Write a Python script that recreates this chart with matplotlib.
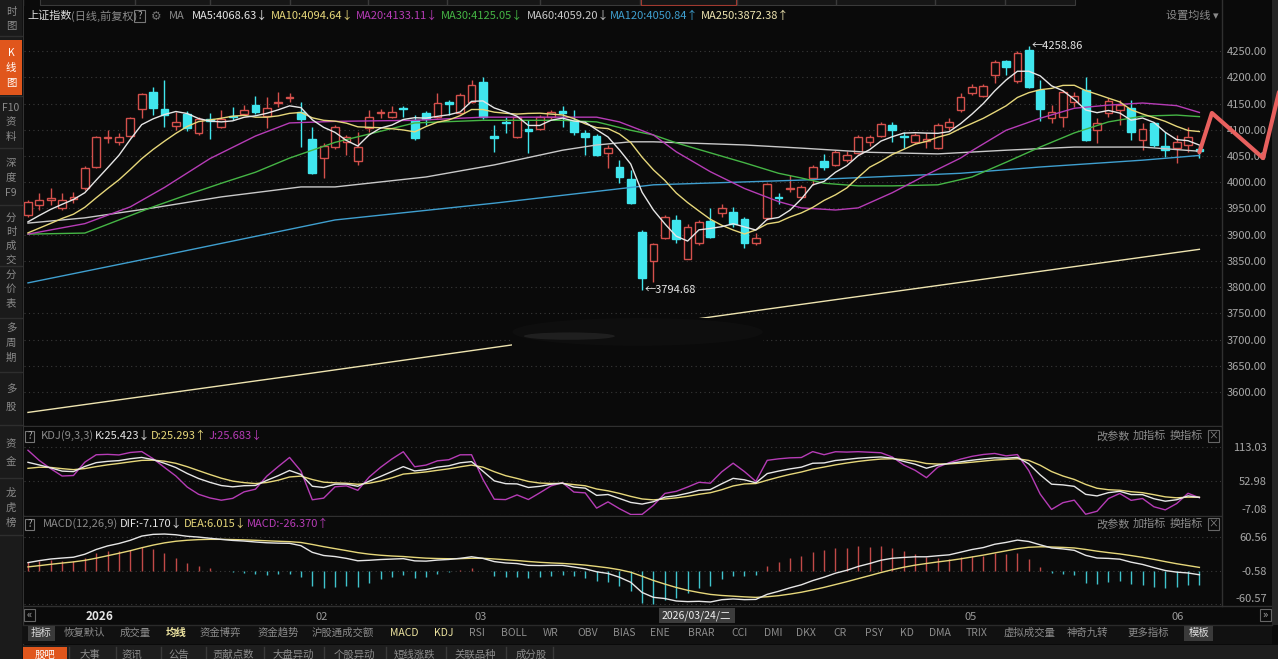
import numpy as np
import pandas as pd
import matplotlib
matplotlib.use('Agg')
import matplotlib.pyplot as plt
from matplotlib.patches import Rectangle, Ellipse
from matplotlib.lines import Line2D

plt.rcParams['font.family'] = ['Noto Sans CJK SC', 'DejaVu Sans']

W, H = 1278, 659

# daily candles, oldest first (late Dec 2025 .. early Jun 2026)
opens = [3937, 3956, 3966, 3951, 3968, 3989, 4029, 4085, 4077, 4088,
         4139, 4172, 4139, 4107, 4130, 4094, 4120, 4105, 4127, 4130,
         4147, 4126, 4151, 4160, 4134, 4082, 4046, 4067, 4077, 4040,
         4103, 4132, 4124, 4141, 4118, 4132, 4124, 4153, 4132, 4153,
         4191, 4088, 4115, 4086, 4101, 4101, 4124, 4136, 4118, 4094,
         4088, 4056, 4029, 4006, 3905, 3850, 3894, 3928, 3853, 3884,
         3926, 3941, 3943, 3930, 3884, 3932, 3971, 3987, 3972, 4008,
         4040, 4033, 4042, 4056, 4077, 4088, 4109, 4088, 4077, 4079,
         4065, 4105, 4137, 4170, 4164, 4204, 4231, 4193, 4252, 4176,
         4122, 4124, 4153, 4176, 4099, 4132, 4137, 4141, 4080, 4113,
         4069, 4065, 4071, 4063]
highs = [3966, 3979, 3989, 3979, 3981, 4030, 4088, 4100, 4094, 4124,
         4170, 4181, 4195, 4134, 4135, 4124, 4132, 4137, 4143, 4147,
         4164, 4162, 4172, 4170, 4153, 4105, 4075, 4109, 4090, 4096,
         4137, 4140, 4145, 4145, 4128, 4136, 4170, 4157, 4170, 4195,
         4200, 4109, 4124, 4126, 4118, 4128, 4137, 4145, 4137, 4099,
         4092, 4071, 4042, 4023, 3908, 3885, 3937, 3937, 3920, 3927,
         3951, 3958, 3952, 3933, 3903, 3999, 3979, 4014, 3995, 4032,
         4054, 4061, 4059, 4090, 4090, 4115, 4115, 4096, 4094, 4094,
         4113, 4122, 4170, 4187, 4187, 4233, 4233, 4250, 4258.86, 4195,
         4147, 4176, 4172, 4200, 4122, 4160, 4157, 4157, 4113, 4115,
         4096, 4090, 4105, 4071]
lows = [3933, 3947, 3956, 3947, 3960, 3986, 4027, 4075, 4071, 4086,
        4122, 4128, 4105, 4099, 4098, 4090, 4082, 4103, 4118, 4130,
        4130, 4103, 4143, 4153, 4067, 4015, 4008, 4063, 4052, 4033,
        4096, 4122, 4122, 4124, 4080, 4109, 4122, 4128, 4130, 4151,
        4120, 4057, 4093, 4084, 4055, 4099, 4120, 4105, 4090, 4052,
        4050, 4027, 3998, 3958, 3794.68, 3810, 3891, 3884, 3853, 3880,
        3893, 3934, 3914, 3875, 3880, 3928, 3958, 3981, 3970, 3994,
        4023, 4030, 4038, 4054, 4069, 4086, 4076, 4065, 4072, 4065,
        4063, 4099, 4134, 4166, 4162, 4189, 4204, 4189, 4179, 4117,
        4113, 4105, 4143, 4078, 4074, 4124, 4109, 4080, 4061, 4067,
        4048, 4036, 4057, 4046]
closes = [3962, 3966, 3970, 3966, 3971, 4027, 4086, 4087, 4086, 4122,
          4168, 4141, 4128, 4115, 4103, 4120, 4117, 4120, 4125, 4137,
          4134, 4141, 4153, 4163, 4120, 4018, 4069, 4105, 4086, 4067,
          4124, 4134, 4134, 4139, 4084, 4120, 4151, 4149, 4166, 4185,
          4124, 4084, 4112, 4124, 4097, 4124, 4134, 4132, 4096, 4086,
          4052, 4065, 4010, 3960, 3817, 3882, 3934, 3892, 3914, 3924,
          3895, 3951, 3920, 3884, 3894, 3997, 3969, 3989, 3991, 4029,
          4029, 4057, 4052, 4086, 4086, 4111, 4099, 4086, 4090, 4082,
          4109, 4115, 4162, 4181, 4183, 4229, 4219, 4246, 4181, 4139,
          4134, 4172, 4164, 4080, 4113, 4155, 4147, 4096, 4101, 4071,
          4061, 4077, 4086, 4059]
# 9 sessions before the window (only to start MA5/MA10/MACD)
prev_close = [3875, 3880, 3872, 3890, 3895, 3905, 3912, 3918, 3925]

# slow moving averages: session index -> value
ma20_i = [0, 5, 9, 12, 16, 20, 23, 27, 34, 40, 50, 52, 55, 57, 60, 63, 66,
          68, 71, 73, 76, 79, 82, 83, 86, 89, 92, 95, 98, 101, 103]
ma20_v = [3901, 3921, 3953, 3990, 4045, 4088, 4113, 4116, 4118, 4124, 4124,
          4115, 4090, 4058, 4020, 3988, 3963, 3951, 3947, 3951, 3980, 4014,
          4046, 4060, 4099, 4122, 4141, 4147, 4151, 4146, 4133]
ma30_i = [0, 5, 8, 11, 14, 17, 20, 23, 25, 27, 34, 40, 47, 50, 53, 55, 57,
          60, 63, 66, 68, 70, 73, 76, 80, 83, 86, 89, 92, 95, 98, 101, 103]
ma30_v = [3901, 3903, 3928, 3953, 3976, 3998, 4019, 4046, 4061, 4076, 4113,
          4118, 4118, 4115, 4099, 4090, 4075, 4056, 4037, 4017, 4008, 3998,
          3993, 3993, 3995, 4010, 4038, 4067, 4094, 4115, 4126, 4128, 4125]
ma60_i = [0, 5, 11, 17, 24, 27, 35, 41, 47, 50, 53, 55, 63, 68, 74, 80, 86,
          92, 98, 103]
ma60_v = [3922, 3932, 3951, 3972, 3991, 3991, 4010, 4033, 4061, 4071, 4077,
          4077, 4071, 4065, 4057, 4054, 4061, 4067, 4067, 4059]
ma120_i = [0, 10, 27, 41, 55, 68, 82, 89, 98, 103]
ma120_v = [3808, 3852, 3928, 3960, 3995, 4004, 4017, 4029, 4042, 4051]
ma250_i = [0, 25, 42, 64, 85, 103]
ma250_v = [3561, 3636, 3688, 3755, 3818, 3872]
kd_start = (85, 70)

# pen stroke drawn over the right edge of the chart
sketch_i = [103, 104.1, 108.6, 110]
sketch_v = [4057, 4132, 4046, 4172]
# blurred-out watermark over the MA250 line (index range, price range)
smear_i = (42.6, 64.6)
smear_v = (3688, 3741)

price_ticks = [4250, 4200, 4150, 4100, 4050, 4000, 3950, 3900, 3850, 3800,
               3750, 3700, 3650, 3600]
kdj_ticks = [113.03, 52.98, -7.08]
macd_ticks = [60.56, -0.58, -60.57]
date_pos = [6.3, 25.8, 39.8, 82.9, 101.1]
date_txt = ['2026', '02', '03', '05', '06']

BG = '#0a0a0a'
UP = '#d4504c'
DN = '#40e6ee'
C5, C10, C20, C30 = '#e6e6e6', '#e6d77a', '#b63cb6', '#45b545'
C60, C120, C250 = '#c9c9c9', '#3f9fcf', '#eee4b0'
GRID = '#3a3a3a'

fig = plt.figure(figsize=(W / 100, H / 100), dpi=100, facecolor=BG)


def rect_px(x0, y0, x1, y1):
    return [x0 / W, 1 - y1 / H, (x1 - x0) / W, (y1 - y0) / H]


def ptext(x, y, s, color='#9a9a9a', size=8, **kw):
    fig.text(x / W, 1 - y / H, s, color=color, fontsize=size, va='center', **kw)


def pbox(x0, y0, x1, y1, fc='none', ec='#555555', lw=0.8, z=-1):
    fig.add_artist(Rectangle((x0 / W, 1 - y1 / H), (x1 - x0) / W, (y1 - y0) / H,
                             transform=fig.transFigure, facecolor=fc, edgecolor=ec,
                             lw=lw, zorder=z))


def pline(x0, y0, x1, y1, color='#2a2a2a', lw=1):
    fig.add_artist(Line2D([x0 / W, x1 / W], [1 - y0 / H, 1 - y1 / H],
                          transform=fig.transFigure, color=color, lw=lw, zorder=-1))


ax = fig.add_axes(rect_px(24, 6, 1221, 425))
axk = fig.add_axes(rect_px(24, 427, 1221, 515))
axm = fig.add_axes(rect_px(24, 517, 1221, 605))
for a in (ax, axk, axm):
    a.set_facecolor(BG)
    for s in a.spines.values():
        s.set_visible(False)
    a.set_xlim(-0.35, 104.9)
    a.set_xticks([])
    a.yaxis.tick_right()
    a.tick_params(axis='y', length=0, pad=33, labelsize=8, labelcolor='#a8a8a8')
    a.grid(axis='y', color=GRID, ls=(0, (1, 3)), lw=0.8)
    a.set_axisbelow(True)

# ---- price panel
o, h, l, c = (np.array(v, dtype=float) for v in (opens, highs, lows, closes))
idx = np.arange(len(c))
up = c >= o
ax.vlines(idx, l, h, colors=np.where(up, UP, DN), lw=1, zorder=2)
bot = np.minimum(o, c)
hgt = np.maximum(np.abs(c - o), 0.8)
ax.bar(idx[up], hgt[up], bottom=bot[up], width=0.68, facecolor=BG,
       edgecolor=UP, lw=1, zorder=3)
ax.bar(idx[~up], hgt[~up], bottom=bot[~up], width=0.68, facecolor=DN,
       edgecolor=DN, lw=1, zorder=3)

allc = pd.Series(prev_close + closes, dtype=float)
n0 = len(prev_close)
ma5 = allc.rolling(5).mean().to_numpy()[n0:]
ma10 = allc.rolling(10).mean().to_numpy()[n0:]
ax.plot(ma250_i, ma250_v, color=C250, lw=1, zorder=4)
ax.plot(ma120_i, ma120_v, color=C120, lw=1, zorder=4)
ax.plot(ma60_i, ma60_v, color=C60, lw=1, zorder=4)
ax.plot(ma30_i, ma30_v, color=C30, lw=1, zorder=4)
ax.plot(ma20_i, ma20_v, color=C20, lw=1, zorder=4)
ax.plot(idx, ma10, color=C10, lw=1, zorder=4)
ax.plot(idx, ma5, color=C5, lw=1, zorder=4)

# the screenshot has a blurred patch here that hides part of MA250
ax.add_patch(Rectangle((smear_i[0], smear_v[0]), smear_i[1] - smear_i[0],
                       smear_v[1] - smear_v[0], facecolor=BG, edgecolor='none',
                       zorder=4.5))
cx = (smear_i[0] + smear_i[1]) / 2
cy = (smear_v[0] + smear_v[1]) / 2
ax.add_patch(Ellipse((cx, cy), smear_i[1] - smear_i[0], smear_v[1] - smear_v[0],
                     facecolor='#5a5a5a', edgecolor='none', alpha=0.05, zorder=4.6))
ax.add_patch(Ellipse((smear_i[0] + 5, cy - 8), 8, 14, facecolor='#bdbdbd',
                     edgecolor='none', alpha=0.10, zorder=4.6))

hi = int(np.argmax(h))
lo = int(np.argmin(l))
ax.text(hi + 0.25, h[hi], '←%.2f' % h[hi], color='#e6e6e6', fontsize=8,
        va='center', ha='left', zorder=5)
ax.text(lo + 0.25, l[lo], '←%.2f' % l[lo], color='#e6e6e6', fontsize=8,
        va='center', ha='left', zorder=5)

ax.plot(sketch_i, sketch_v, color='#e8605e', lw=3, solid_capstyle='round',
        solid_joinstyle='round', clip_on=False, zorder=10)

ax.set_ylim(3537, 4336)
ax.set_yticks(price_ticks)
ax.set_yticklabels(['%.2f' % v for v in price_ticks])

# ---- KDJ(9,3,3)
hh = pd.Series(h).rolling(9, min_periods=1).max()
ll = pd.Series(l).rolling(9, min_periods=1).min()
rsv = ((pd.Series(c) - ll) / (hh - ll) * 100).to_numpy()
K, D = [], []
k, d = kd_start
for r in rsv:
    k = (2 * k + r) / 3
    d = (2 * d + k) / 3
    K.append(k)
    D.append(d)
K, D = np.array(K), np.array(D)
J = 3 * K - 2 * D
axk.plot(idx, J, color=C20, lw=1)
axk.plot(idx, D, color=C10, lw=1)
axk.plot(idx, K, color=C5, lw=1)
axk.set_ylim(-7.08, 148.3)
axk.set_yticks(kdj_ticks)
axk.set_yticklabels(['%.2f' % v for v in kdj_ticks])

# ---- MACD(12,26,9)
dif = allc.ewm(span=12, adjust=False).mean() - allc.ewm(span=26, adjust=False).mean()
dea = dif.ewm(span=9, adjust=False).mean()
dif = dif.to_numpy()[n0:]
dea = dea.to_numpy()[n0:]
hist = 2 * (dif - dea)
axm.vlines(idx, 0, hist, colors=np.where(hist >= 0, '#c24a48', '#3fc3cc'), lw=1)
axm.plot(idx, dea, color=C10, lw=1)
axm.plot(idx, dif, color=C5, lw=1)
axm.set_ylim(-61.7, 96.5)
axm.set_yticks(macd_ticks)
axm.set_yticklabels(['%.2f' % v for v in macd_ticks])

for a in (ax, axk, axm):
    for lbl in a.get_yticklabels():
        lbl.set_horizontalalignment('right')
axk.get_yticklabels()[-1].set_verticalalignment('bottom')
axm.get_yticklabels()[-1].set_verticalalignment('bottom')

# ---- frame, dividers, sidebar
pline(23, 426, 1221, 426, '#303030')
pline(23, 516, 1221, 516, '#303030')
pline(23, 606, 1278, 606, '#303030')
pline(1222, 0, 1222, 606, '#303030')
pbox(1272, 0, 1278, 625, fc='#262626', ec='none')
pbox(0, 0, 22, 659, fc='#1b1b1b', ec='none')
pline(22.5, 0, 22.5, 659, '#333333')
pbox(40, -4, 1075, 5, fc='#161616', ec='#3a3a3a')
for x in [135, 210, 290, 368, 447, 540, 640, 737, 836, 935, 1005]:
    pline(x, 0, x, 5, '#3a3a3a')
pbox(641, -4, 736, 5, fc='none', ec='#a03a30')

pbox(0, 40, 22, 95, fc='#e0561c', ec='none')
side = [(['时', '图'], [12, 26]),
        (['K', '线', '图'], [53, 68, 83]),
        (['F10', '资', '料'], [108, 122, 137]),
        (['深', '度', 'F9'], [163, 178, 193]),
        (['分', '时', '成', '交'], [218, 232, 246, 260]),
        (['分', '价', '表'], [275, 289, 303]),
        (['多', '周', '期'], [328, 343, 358]),
        (['多', '股'], [389, 407]),
        (['资', '金'], [444, 462]),
        (['龙', '虎', '榜'], [493, 508, 523])]
for n, (chars, ys) in enumerate(side):
    col = '#ffffff' if n == 1 else '#8c8c8c'
    for ch, y in zip(chars, ys):
        ptext(11, y, ch, color=col, size=7.5, ha='center')
for y in [36, 96, 148, 205, 266, 318, 372, 425, 478, 535]:
    pline(0, y, 22, y, '#2e2e2e')

# ---- headers
ptext(27, 16, '上证指数', color='#dcdcdc')
ptext(71, 16, '(日线,前复权)', color='#8a8a8a')
pbox(134, 10, 145, 22, ec='#777777', z=2)
ptext(139.5, 16, '?', color='#aaaaaa', size=7, ha='center')
ptext(151, 16, '⚙', color='#777777', size=8.5)
ptext(169, 16, 'MA', color='#8a8a8a')
ma_txt = ['MA5:4068.63↓', 'MA10:4094.64↓', 'MA20:4133.11↓', 'MA30:4125.05↓',
          'MA60:4059.20↓', 'MA120:4050.84↑', 'MA250:3872.38↑']
ma_x = [192, 271, 356, 441, 527, 610, 701]
for s, x, col in zip(ma_txt, ma_x, [C5, C10, C20, C30, C60, C120, C250]):
    ptext(x, 16, s, color=col)
ptext(1166, 16, '设置均线 ▾', color='#8a8a8a')

for y0 in (436, 524):
    pbox(25, y0 - 5.5, 34, y0 + 5.5, ec='#777777', z=2)
    ptext(29.5, y0, '?', color='#aaaaaa', size=7, ha='center')
    ptext(1096, y0, '改参数', color='#8a8a8a')
    ptext(1133, y0, '加指标', color='#8a8a8a')
    ptext(1170, y0, '换指标', color='#8a8a8a')
    pbox(1208, y0 - 6, 1219, y0 + 6, ec='#666666', z=2)
    ptext(1213.5, y0, '×', color='#888888', size=7, ha='center')

ptext(41, 436, 'KDJ(9,3,3)', color='#8a8a8a')
ptext(95, 436, 'K:25.423↓', color=C5)
ptext(151, 436, 'D:25.293↑', color=C10)
ptext(209, 436, 'J:25.683↓', color=C20)
ptext(43, 524, 'MACD(12,26,9)', color='#8a8a8a')
ptext(120, 524, 'DIF:-7.170↓', color=C5)
ptext(184, 524, 'DEA:6.015↓', color=C10)
ptext(247, 524, 'MACD:-26.370↑', color=C20)

# ---- date row
for p, s in zip(date_pos, date_txt):
    ax.text(p, -0.458, s, transform=ax.get_xaxis_transform(), ha='center',
            va='center', fontsize=8.5 if s == '2026' else 8,
            color='#e6e6e6' if s == '2026' else '#9a9a9a',
            fontweight='bold' if s == '2026' else 'normal', clip_on=False)
pbox(24, 609, 35, 621, ec='#666666', z=2)
ptext(29.5, 614.5, '«', color='#aaaaaa', size=8, ha='center')
pbox(1260, 609, 1271, 621, ec='#666666', z=2)
ptext(1265.5, 614.5, '»', color='#aaaaaa', size=8, ha='center')
pbox(659, 608, 735, 623, fc='#3c3c3c', ec='none', z=2)
ptext(662, 615.5, '2026/03/24/二', color='#f0f0f0', size=7.5)

# ---- indicator tabs
pbox(23, 625, 1272, 644, fc='#111111', ec='none')
pline(23, 625, 1272, 625, '#2a2a2a')
tabs = ['指标', '恢复默认', '成交量', '均线', '资金博弈', '资金趋势', '沪股通成交额',
        'MACD', 'KDJ', 'RSI', 'BOLL', 'WR', 'OBV', 'BIAS', 'ENE', 'BRAR', 'CCI',
        'DMI', 'DKX', 'CR', 'PSY', 'KD', 'DMA', 'TRIX', '虚拟成交量', '神奇九转',
        '更多指标', '模板']
tab_x = [41, 84, 135, 176, 220, 278, 343, 404, 444, 477, 514, 551, 588, 624,
         660, 701, 740, 773, 806, 840, 874, 907, 940, 977, 1030, 1087, 1148, 1199]
pbox(28, 626, 55, 641, fc='#3a3a3a', ec='none', z=0)
pbox(1184, 626, 1213, 641, fc='#3a3a3a', ec='none', z=0)
for s, x in zip(tabs, tab_x):
    col = '#8c8c8c'
    if s in ('均线', 'MACD', 'KDJ'):
        col = '#ece3a0'
    if s in ('指标', '模板'):
        col = '#dddddd'
    ptext(x, 633, s, color=col, size=7.5, ha='center',
          fontweight='bold' if s == '均线' else 'normal')

# ---- bottom tabs (cut off by the screenshot)
pbox(23, 645, 1278, 662, fc='#1e1e1e', ec='none')
pbox(23, 647, 67, 662, fc='#e0561c', ec='none', z=0)
bottom = ['股吧', '大事', '资讯', '公告', '贡献点数', '大盘异动', '个股异动', '短线涨跌',
          '关联品种', '成分股']
bottom_x = [45, 90, 132, 179, 233, 293, 354, 414, 475, 531]
for s, x in zip(bottom, bottom_x):
    ptext(x, 655, s, color='#ffffff' if s == '股吧' else '#8c8c8c', size=7.5,
          ha='center')
for x in [69, 116, 161, 206, 264, 324, 386, 446, 506, 553]:
    pline(x, 647, x, 659, '#3a3a3a')

fig.savefig('out.png', dpi=100, facecolor=BG)
